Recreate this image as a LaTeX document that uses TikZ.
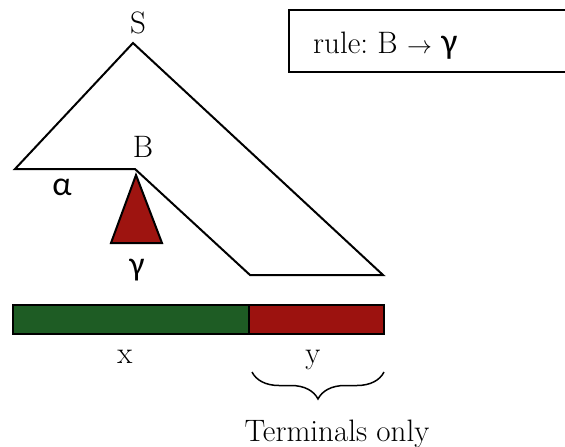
\documentclass[tikz,border=0pt]{standalone}
\usepackage{fontspec}
\newfontfamily\grk{Carlito}
\usetikzlibrary{decorations.pathreplacing}
\definecolor{treered}{RGB}{158,20,16}
\definecolor{bargreen}{RGB}{30,92,36}
\definecolor{barred}{RGB}{156,18,15}
\tikzset{
  lbl/.style={inner sep=0pt, anchor=base, font=\fontsize{31}{31}\selectfont},
  grklbl/.style={inner sep=0pt, anchor=base, font=\grk\fontsize{34}{34}\selectfont},
  treeline/.style={line width=2pt, line join=miter},
  barpart/.style={draw=black, line width=1.6pt},
}
\begin{document}
\frenchspacing
\begin{tikzpicture}[x=1pt,y=-1pt]
\useasboundingbox (0,0) rectangle (565,447);
% tree outline
\coordinate (apex) at (133,43);
\coordinate (left) at (15,169);
\coordinate (bpt) at (135,169);
\coordinate (ll) at (250,275);
\coordinate (lr) at (383,275);
\draw[treeline] (left) -- (apex) -- (lr) -- (ll) -- (bpt) -- cycle;
% gamma triangle
\coordinate (ta) at (136,175);
\coordinate (tl) at (111,243);
\coordinate (tr) at (162,243);
\draw[treeline, fill=treered] (ta) -- (tl) -- (tr) -- cycle;
% labels
\node[lbl] (S) at (138,33) {S};
\node[lbl] (B) at (143,157) {B};
\node[grklbl] (alpha) at (62,195) {α};
\node[grklbl] (gamma) at (137,275) {γ};
% rule box
\node[draw, line width=1.6pt, anchor=north west, minimum width=290pt, minimum height=62pt, inner sep=0pt] (rulebox) at (288,9) {};
\node[lbl, anchor=base west] (rule) at (313,53) {rule: B $\rightarrow$ {\grk\fontsize{36}{36}\selectfont γ}};
% bar
\node[barpart, fill=bargreen, anchor=north west, minimum width=236pt, minimum height=29pt, inner sep=0pt] (xbar) at (12,304) {};
\node[barpart, fill=barred, anchor=north west, minimum width=135pt, minimum height=29pt, inner sep=0pt] (ybar) at (248,304) {};
\node[lbl] (x) at (125,363) {x};
\node[lbl] (y) at (313,363) {y};
% brace
\coordinate (bl) at (252,372);
\coordinate (br) at (384,372);
\draw[line width=1.5pt, decorate, decoration={brace, mirror, amplitude=27pt, aspect=0.5}] (bl) -- (br);
\node[lbl] (term) at (337,441) {Terminals only};
\end{tikzpicture}
\end{document}
